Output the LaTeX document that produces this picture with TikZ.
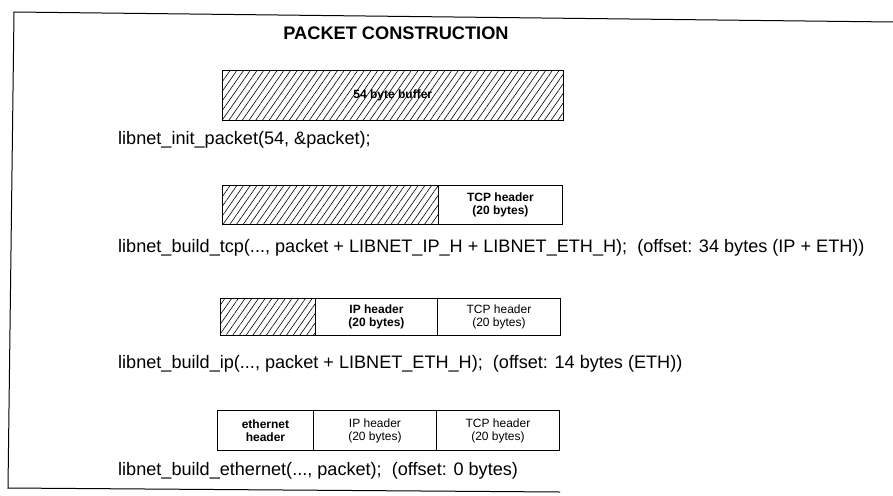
\documentclass[tikz,border=0pt]{standalone}
\usepackage{fontspec}
\setmainfont{Liberation Sans}
\usetikzlibrary{patterns.meta}
\begin{document}
\begin{tikzpicture}[x=1pt,y=-1pt,
  cell/.style={draw, line width=0.9pt, inner sep=0pt, anchor=north west, align=center,
    font=\fontsize{12}{13}\selectfont},
  boldcell/.style={cell, font=\fontsize{12}{13}\selectfont\bfseries},
  hatched/.style={cell, pattern={Lines[angle=55,distance=5.5pt,line width=0.6pt]}},
  code/.style={anchor=base west, inner sep=0pt, font=\fontsize{18.1}{20}\selectfont},
  titlefont/.style={anchor=base, inner sep=0pt, font=\fontsize{18.2}{20}\selectfont\bfseries},
  frameline/.style={line width=1pt}]
\useasboundingbox (0,0) rectangle (893,495);
% frame
\coordinate (tl) at (14,12);
\coordinate (tr) at (893,22);
\coordinate (bl) at (8,488);
\coordinate (br) at (560,492);
\draw[frameline] (tr) -- (tl) -- (bl) -- (br);
% title
\node[titlefont] (title) at (396,40) {PACKET CONSTRUCTION};
% row 1
\node[hatched, minimum width=341pt, minimum height=50pt] (buf) at (222,70)
  {\bfseries 54 byte buffer};
\node[code] (c1) at (118,144) {libnet\_init\_packet(54, \&packet);};
% row 2
\node[hatched, minimum width=216pt, minimum height=39pt] (h2) at (222,185) {};
\node[boldcell, minimum width=124pt, minimum height=39pt] (tcp2) at (438,185)
  {TCP header\\(20 bytes)};
\node[code] (c2) at (118,252) {libnet\_build\_tcp(..., packet + LIBNET\_IP\_H + LIBNET\_ETH\_H);\ \ (offset: 34 bytes (IP + ETH))};
% row 3
\node[hatched, minimum width=95pt, minimum height=37pt] (h3) at (220,298) {};
\node[boldcell, minimum width=122pt, minimum height=37pt] (ip3) at (315,298)
  {IP header\\(20 bytes)};
\node[cell, minimum width=123pt, minimum height=37pt] (tcp3) at (437,298)
  {TCP header\\(20 bytes)};
\node[code] (c3) at (118,368) {libnet\_build\_ip(..., packet + LIBNET\_ETH\_H);\ \ (offset: 14 bytes (ETH))};
% row 4
\node[boldcell, minimum width=96pt, minimum height=40pt] (eth4) at (217,410)
  {ethernet\\header};
\node[cell, minimum width=123pt, minimum height=40pt] (ip4) at (313,410)
  {IP header\\(20 bytes)};
\node[cell, minimum width=123pt, minimum height=40pt] (tcp4) at (436,410)
  {TCP header\\(20 bytes)};
\node[code] (c4) at (118,475) {libnet\_build\_ethernet(..., packet);\ \ (offset: 0 bytes)};
\end{tikzpicture}
\end{document}
